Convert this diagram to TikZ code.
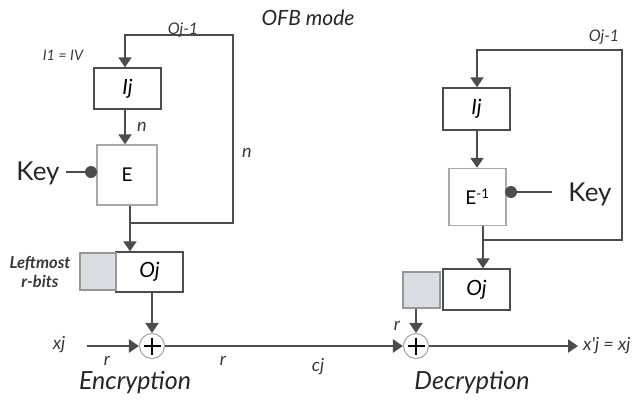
\documentclass[tikz,border=0pt]{standalone}
\usepackage{fontspec}
\setmainfont{Lato}[Ligatures=TeXOff]
\usetikzlibrary{arrows.meta,calc}
\definecolor{ln}{HTML}{4C4C4C}
\definecolor{lgray}{HTML}{A8A8A8}
\definecolor{gfill}{HTML}{DCDDE2}
\begin{document}
\begin{tikzpicture}[x=1pt,y=-1pt,
  arr/.style={draw=ln,line width=2.2pt,-{Triangle[length=10pt,width=13pt]}},
  ln/.style={draw=ln,line width=2.2pt},
  blk/.style={draw=ln,line width=1.4pt,fill=white,minimum width=67pt,minimum height=41pt,inner sep=0pt,font=\fontsize{21}{21}\selectfont\itshape},
  ebox/.style={draw=lgray,line width=1.4pt,fill=white,inner sep=0pt,font=\fontsize{19}{19}\selectfont},
  gbox/.style={draw=lgray!90!black,line width=1.3pt,fill=gfill,inner sep=0pt},
  xorc/.style={circle,draw=lgray,line width=1.1pt,fill=white,minimum size=25pt,inner sep=0pt},
  lbl/.style={font=\fontsize{18}{18}\selectfont\itshape,text=ln!75!black,inner sep=0pt},
  small/.style={font=\fontsize{16}{16}\selectfont\itshape,text=ln!75!black,inner sep=0pt},
  big/.style={font=\fontsize{25}{25}\selectfont\itshape,text=black!85,inner sep=0pt},
  keyt/.style={font=\fontsize{26}{26}\selectfont,text=black!85,inner sep=0pt},
  dot/.style={circle,fill=ln,minimum size=12pt,inner sep=0pt}]
\useasboundingbox (0,0) rectangle (638,400);

% ---------- Encryption side ----------
\coordinate (fbL1) at (125,35);
\coordinate (fbL2) at (233,35);
\coordinate (fbL3) at (233,223);
\coordinate (fbL4) at (130,223);
\node[blk] (Ij1) at (127.5,88.5) {Ij};
\node[ebox,minimum width=60pt,minimum height=60pt] (E1) at (127,175) {E};
\node[blk,minimum height=40pt] (Oj1) at (149.5,272) {Oj};
\node[gbox,minimum width=36pt,minimum height=37pt] (G1) at (98,271.5) {};
\node[xorc] (X1) at (152,346) {};
\draw[black,line width=1.8pt] ($(X1.center)+(-8.5,0)$) -- ($(X1.center)+(8.5,0)$) ($(X1.center)+(0,-8.5)$) -- ($(X1.center)+(0,8.5)$);

\draw[arr] (fbL4) -- (fbL3) -- (fbL2) -- (fbL1) -- (fbL1 |- Ij1.north);
\draw[arr] (fbL1 |- Ij1.south) -- (fbL1 |- E1.north);
\draw[arr] (fbL4 |- E1.south) -- (fbL4 |- Oj1.north);
\draw[arr] (X1 |- Oj1.south) -- (X1.north);

\node[dot] (D1) at (91,172) {};
\node[keyt] (K1) at (38,173) {Key};
\coordinate (K1e) at (66,172);
\draw[ln] (K1e) -- (D1.center);

\coordinate (xin) at (87,346);
\node[lbl] (xj) at (59,345) {xj};
\draw[arr] (xin) -- (X1.west);

\node[font=\fontsize{14.5}{14.5}\selectfont\itshape,text=ln!75!black,inner sep=0pt] (I1) at (63,55) {I1 = IV};
\node[small] (Oj1lab) at (183,30) {Oj-1};
\node[lbl] (n1) at (142,127) {n};
\node[lbl] (n2) at (247,153) {n};
\node[font=\fontsize{16.5}{19}\selectfont\bfseries\itshape,text=ln!75!black,align=center,inner sep=0pt] (LM) at (40,272) {Leftmost\\r-bits};
\node[lbl] (r1) at (107,361) {r};
\node[lbl] (r2) at (223,361) {r};
\node[lbl] (cj) at (318,367) {cj};
\node[big] (Enc) at (135,383) {Encryption};
\node[font=\fontsize{21}{21}\selectfont\itshape,text=black!85,inner sep=0pt] (title) at (308,18) {OFB mode};

% ---------- Decryption side ----------
\coordinate (fbR1) at (477,50);
\coordinate (fbR2) at (622,50);
\coordinate (fbR3) at (622,240);
\coordinate (fbR4) at (483,240);
\node[blk,minimum height=42pt] (Ij2) at (476.5,109) {Ij};
\node[ebox,minimum width=57pt,minimum height=57pt] (E2) at (477.5,197) {E\textsuperscript{-1}};
\node[blk] (Oj2) at (476.5,289.5) {Oj};
\node[gbox,minimum width=37pt,minimum height=36pt] (G2) at (421.5,290) {};
\node[xorc] (X2) at (416,346) {};
\draw[black,line width=1.8pt] ($(X2.center)+(-8.5,0)$) -- ($(X2.center)+(8.5,0)$) ($(X2.center)+(0,-8.5)$) -- ($(X2.center)+(0,8.5)$);

\draw[arr] (fbR4) -- (fbR3) -- (fbR2) -- (fbR1) -- (fbR1 |- Ij2.north);
\draw[arr] (fbR1 |- Ij2.south) -- (fbR1 |- E2.north);
\draw[arr] (fbR4 |- E2.south) -- (fbR4 |- Oj2.north);
\draw[arr] (X2 |- G2.south) -- (X2.north);

\node[dot] (D2) at (511,192) {};
\node[keyt] (K2) at (590,194) {Key};
\coordinate (K2w) at (552,192);
\draw[ln] (D2.center) -- (K2w);

\draw[arr] (X1.east) -- (X2.west);
\coordinate (xout) at (578,346);
\draw[arr] (X2.east) -- (xout);
\node[lbl,anchor=west] (xo) at (583,346) {x'j = xj};
\node[lbl] (r3) at (397,326) {r};
\node[small] (Oj2lab) at (604,37) {Oj-1};
\node[big] (Dec) at (472,383) {Decryption};
\end{tikzpicture}
\end{document}
